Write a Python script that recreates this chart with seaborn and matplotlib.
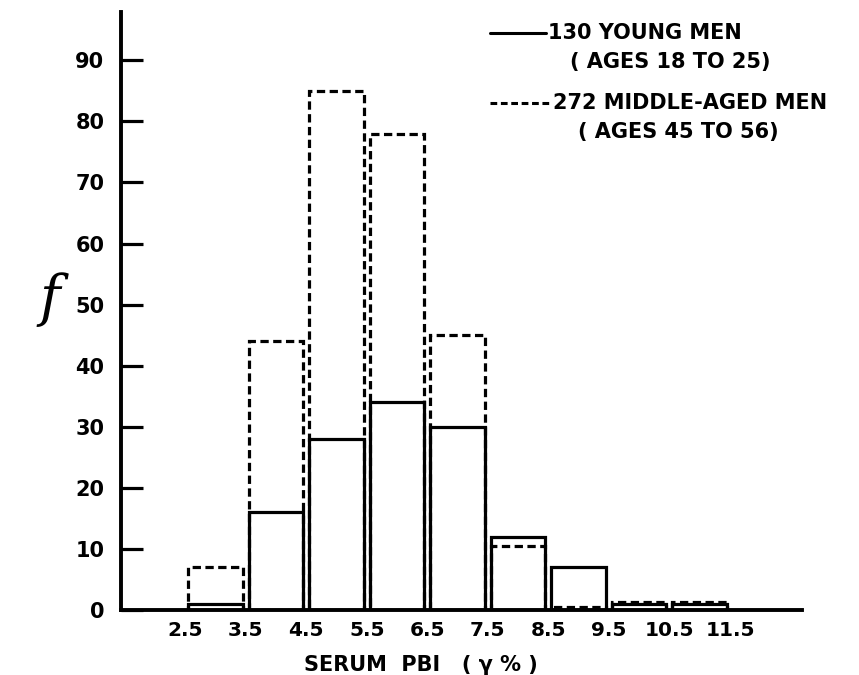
import numpy as np
import pandas as pd
import matplotlib
matplotlib.use("Agg")
import matplotlib.pyplot as plt
import seaborn as sns
from matplotlib.lines import Line2D

# ---- data ----
bin_left = [2.5, 3.5, 4.5, 5.5, 6.5, 7.5, 8.5, 9.5, 10.5]
young_counts = [1, 16, 28, 34, 30, 12, 7, 1, 1]           # 130 young men
middle_counts = [7, 44, 85, 78, 45, 10.5, 0.5, 1.3, 1.3]  # 272 middle-aged men
x_tick_labels = ["2.5", "3.5", "4.5", "5.5", "6.5", "7.5", "8.5", "9.5", "10.5", "11.5"]
y_ticks = [0, 10, 20, 30, 40, 50, 60, 70, 80, 90]

edges = bin_left + [bin_left[-1] + 1]
centers = [b + 0.5 for b in bin_left]
df = pd.DataFrame({"pbi": centers, "young": young_counts, "middle": middle_counts})

sns.set_theme(style="white")
plt.rcParams["font.family"] = ["DejaVu Sans"]
plt.rcParams["text.color"] = "black"
plt.rcParams["xtick.color"] = "black"
plt.rcParams["ytick.color"] = "black"
plt.rcParams["xtick.labelcolor"] = "black"
plt.rcParams["ytick.labelcolor"] = "black"

fig = plt.figure(figsize=(8.59, 6.75), dpi=100)
ax = fig.add_axes([121/859, 1 - 610/675, (802 - 121)/859, (610 - 12)/675])

lw = 2.3
sns.histplot(data=df, x="pbi", weights="middle", bins=edges, fill=False,
             shrink=0.9, element="bars", color="black", linewidth=lw,
             linestyle=(0, (2.6, 1.4)), ax=ax)
sns.histplot(data=df, x="pbi", weights="young", bins=edges, fill=False,
             shrink=0.9, element="bars", color="black", linewidth=lw, ax=ax)

ax.set_xlim(1.44, 12.69)
ax.set_ylim(0, 97.9)
ax.set_xticks(edges)
ax.set_xticklabels(x_tick_labels)
ax.set_yticks(y_ticks)
ax.set_yticklabels([str(v) for v in y_ticks])
ax.tick_params(axis="x", length=0, pad=8, labelsize=14.5, labelcolor="black")
ax.tick_params(axis="y", direction="in", length=16, width=2.3, pad=12,
               labelsize=15, color="black", labelcolor="black", left=True)
for lab in ax.get_xticklabels() + ax.get_yticklabels():
    lab.set_fontweight("bold")
ax.set_xlabel("")
ax.set_ylabel("")
for s in ["top", "right"]:
    ax.spines[s].set_visible(False)
for s in ["left", "bottom"]:
    ax.spines[s].set_linewidth(2.8)
    ax.spines[s].set_color("black")

# axis titles
fig.text(421/859, 1 - 665/675, "SERUM  PBI   ( γ % )", ha="center", va="center",
         fontsize=15, fontweight="bold", color="black")
fig.text(50/859, 1 - 300/675, "f", ha="center", va="center",
         fontsize=40, style="italic", family="DejaVu Serif", color="black")

# legend (hand-drawn style)
fig.add_artist(Line2D([490/859, 546/859], [1 - 33/675, 1 - 33/675],
                      color="black", linewidth=2.2))
fig.add_artist(Line2D([490/859, 552/859], [1 - 103/675, 1 - 103/675],
                      color="black", linewidth=2.2, linestyle=(0, (2.2, 1.2))))
legend_kw = dict(ha="left", va="center", fontsize=15, fontweight="bold", color="black")
fig.text(548/859, 1 - 33/675, "130 YOUNG MEN", **legend_kw)
fig.text(570/859, 1 - 62/675, "( AGES 18 TO 25)", **legend_kw)
fig.text(553/859, 1 - 103/675, "272 MIDDLE-AGED MEN", **legend_kw)
fig.text(578/859, 1 - 132/675, "( AGES 45 TO 56)", **legend_kw)

fig.savefig("out.png", dpi=100, facecolor="white")
